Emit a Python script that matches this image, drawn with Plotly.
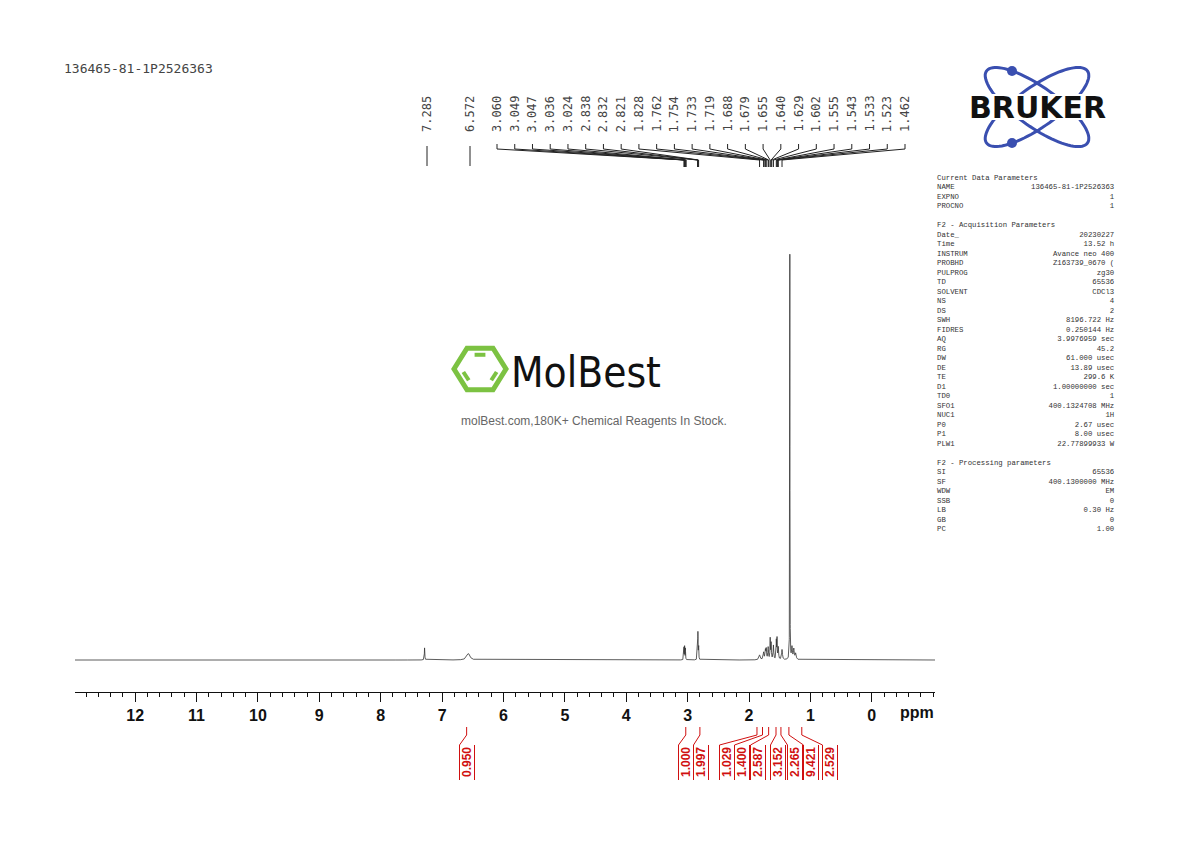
import numpy as np
import plotly.graph_objects as go

W, H = 1190, 842
OFF = 8  # page margin of the browser

# peak list: position (ppm), height (relative), half width (ppm)
peak_ppm = [7.285, 6.572, 3.060, 3.049, 3.036, 2.838, 2.832, 2.821,
            1.828, 1.762, 1.733, 1.719, 1.688, 1.655, 1.640, 1.602,
            1.555, 1.543, 1.523, 1.462, 1.335, 1.300, 1.270, 1.240]
peak_h = [0.030, 0.016, 0.030, 0.032, 0.028, 0.040, 0.060, 0.038,
          0.012, 0.018, 0.022, 0.025, 0.030, 0.050, 0.040, 0.035,
          0.045, 0.050, 0.030, 0.025, 1.000, 0.030, 0.025, 0.015]
peak_w = [0.004, 0.030, 0.003, 0.003, 0.003, 0.003, 0.003, 0.003,
          0.012, 0.008, 0.006, 0.006, 0.006, 0.004, 0.005, 0.006,
          0.004, 0.004, 0.006, 0.008, 0.002, 0.008, 0.008, 0.010]

label_ppm = ["7.285", "6.572", "3.060", "3.049", "3.047", "3.036", "3.024", "2.838",
             "2.832", "2.821", "1.828", "1.762", "1.754", "1.733", "1.719", "1.688",
             "1.679", "1.655", "1.640", "1.629", "1.602", "1.555", "1.543", "1.533",
             "1.523", "1.462"]

integ_values = ["0.950", "1.000", "1.997", "1.029", "1.400", "2.587",
                "3.152", "2.265", "9.421", "2.529"]
integ_ppm = [6.60, 3.03, 2.80, 1.87, 1.78, 1.68, 1.56, 1.48, 1.35, 1.14]

params = [
    ("Current Data Parameters", ""), ("NAME", "136465-81-1P2526363"), ("EXPNO", "1"), ("PROCNO", "1"),
    ("", ""), ("F2 - Acquisition Parameters", ""), ("Date_", "20230227"), ("Time", "13.52 h"),
    ("INSTRUM", "Avance neo 400"), ("PROBHD", "Z163739_0670 ("), ("PULPROG", "zg30"),
    ("TD", "65536"), ("SOLVENT", "CDCl3"), ("NS", "4"), ("DS", "2"),
    ("SWH", "8196.722 Hz"), ("FIDRES", "0.250144 Hz"), ("AQ", "3.9976959 sec"),
    ("RG", "45.2"), ("DW", "61.000 usec"), ("DE", "13.89 usec"), ("TE", "299.6 K"),
    ("D1", "1.00000000 sec"), ("TD0", "1"), ("SFO1", "400.1324708 MHz"), ("NUC1", "1H"),
    ("P0", "2.67 usec"), ("P1", "8.00 usec"), ("PLW1", "22.77899933 W"),
    ("", ""), ("F2 - Processing parameters", ""), ("SI", "65536"), ("SF", "400.1300000 MHz"),
    ("WDW", "EM"), ("SSB", "0"), ("LB", "0.30 Hz"), ("GB", "0"), ("PC", "1.00"),
]

# spectrum from Lorentzian lines
x = np.linspace(-1.03, 12.98, 30000)
y = np.zeros_like(x)
for p, h, w in zip(peak_ppm, peak_h, peak_w):
    y += h * w**2 / ((x - p)**2 + w**2)


def pxx(pix):
    return (pix - OFF) / W


def py(pix):
    return 1 - (pix - OFF) / H


x0d, x1d = pxx(75), pxx(935)
xr = [12.98, -1.03]


def ppm2paper(p):
    return x0d + (xr[0] - p) / (xr[0] - xr[1]) * (x1d - x0d)


fig = go.Figure(go.Scatter(x=x, y=y, mode="lines", line=dict(color="#333", width=0.8),
                           hoverinfo="skip", showlegend=False))

shapes, ann = [], []


def seg(xa, ya, xb, yb, color="#222", width=1):
    shapes.append(dict(type="line", xref="paper", yref="paper", x0=xa, x1=xb, y0=ya, y1=yb,
                       line=dict(color=color, width=width)))


def text(xp, yp, s, font, **kw):
    d = dict(x=xp, y=yp, xref="paper", yref="paper", text=s, showarrow=False,
             xanchor="center", yanchor="middle", font=font)
    d.update(kw)
    ann.append(d)


# peak labels with leaders
n = len(label_ppm)
lx = [427, 470] + list(np.linspace(497, 905, n - 2))
for i, (lab, px) in enumerate(zip(label_ppm, lx)):
    xp = pxx(px)
    text(xp, py(114), lab, dict(family="DejaVu Sans Mono", size=12, color="#444"), textangle=-90)
    tgt = ppm2paper(float(lab))
    if i < 2:
        seg(xp, py(146), xp, py(166))
    else:
        seg(xp, py(144), xp, py(149))
        seg(xp, py(149), tgt, py(160))
        seg(tgt, py(160), tgt, py(167))

# integrals
ix = [467, 686, 701, 727, 742, 758, 778, 795, 811, 830]
red = "#d01010"
for v, p, px in zip(integ_values, integ_ppm, ix):
    xp = pxx(px)
    tgt = ppm2paper(p)
    text(xp, py(762), "<b>%s</b>" % v, dict(family="Liberation Sans", size=12, color=red), textangle=-90)
    for dx in (-7.5, 7.5):
        seg(xp + dx / W, py(780), xp + dx / W, py(745), red)
    seg(xp - 7.5 / W, py(745), tgt, py(735), red)
    seg(tgt, py(735), tgt, py(727), red)

# header and ppm
text(pxx(62), py(68), "136465-81-1P2526363", dict(family="DejaVu Sans Mono", size=13, color="#444"),
     xanchor="left")
text(pxx(917), py(712), "<b>ppm</b>", dict(family="Liberation Sans", size=16, color="#111"))

# parameters block
keys = "<br>".join(k if k else "&nbsp;" for k, v in params)
vals = "<br>".join(v if v else "&nbsp;" for k, v in params)
pfont = dict(family="Liberation Mono", size=7.3, color="#333")
text(pxx(935), py(172), keys, pfont, xanchor="left", yanchor="top", align="left")
text(pxx(1117), py(172), vals, pfont, xanchor="right", yanchor="top", align="right")

# Bruker logo
t = np.linspace(0, 2 * np.pi, 90)
blue = "#3a4fb0"
for ang in (0.62, -0.62):
    ex = 62 * np.cos(t)
    ey = 20 * np.sin(t)
    rx = 1037 + ex * np.cos(ang) - ey * np.sin(ang)
    ry = 107 - (ex * np.sin(ang) + ey * np.cos(ang))
    path = "M " + " L ".join("%.4f,%.4f" % (pxx(a), py(b)) for a, b in zip(rx, ry)) + " Z"
    shapes.append(dict(type="path", xref="paper", yref="paper", path=path,
                       line=dict(color=blue, width=3)))
for cx, cy in ((1012, 71), (1012, 143)):
    shapes.append(dict(type="circle", xref="paper", yref="paper", x0=pxx(cx - 5), x1=pxx(cx + 5),
                       y0=py(cy + 5), y1=py(cy - 5), fillcolor=blue, line=dict(width=0)))
shapes.append(dict(type="rect", xref="paper", yref="paper", x0=pxx(958), x1=pxx(1116),
                   y0=py(120), y1=py(94), fillcolor="white", line=dict(width=0)))
text(pxx(1037), py(107), "<b>BRUKER</b>", dict(family="DejaVu Sans", size=30, color="#111"))

# MolBest watermark
green = "#7cc242"
ang6 = np.arange(6) * np.pi / 3
hx = 480 + 26 * np.cos(ang6)
hy = 369 + 24 * np.sin(ang6)
shapes.append(dict(type="path", xref="paper", yref="paper",
                   path="M " + " L ".join("%.4f,%.4f" % (pxx(a), py(b)) for a, b in zip(hx, hy)) + " Z",
                   line=dict(color=green, width=5)))
for k in (0, 2, 4):
    a0, a1 = ang6[k] + 0.2, ang6[(k + 1) % 6] - 0.2
    seg(pxx(480 + 17 * np.cos(a0)), py(369 + 15 * np.sin(a0)),
        pxx(480 + 17 * np.cos(a1)), py(369 + 15 * np.sin(a1)), green, 4)
text(pxx(586), py(372), "MolBest", dict(family="DejaVu Sans Condensed", size=42, color="#111"))
text(pxx(594), py(421), "molBest.com,180K+ Chemical Reagents In Stock.",
     dict(family="Liberation Sans", size=12, color="#666"))

fig.update_layout(
    width=W, height=H, margin=dict(l=0, r=0, t=0, b=0),
    paper_bgcolor="white", plot_bgcolor="white",
    xaxis=dict(domain=[x0d, x1d], range=xr, tickvals=list(range(12, -1, -1)),
               ticktext=["<b>%d</b>" % i for i in range(12, -1, -1)],
               ticks="outside", ticklen=9, tickwidth=1.2, tickcolor="#111",
               showline=True, linecolor="#111", linewidth=1.2, showgrid=False, zeroline=False,
               tickfont=dict(family="Liberation Sans", size=16, color="#111"),
               minor=dict(dtick=0.2, tick0=0, ticks="outside", ticklen=4, tickcolor="#111")),
    yaxis=dict(domain=[py(692), py(240)], range=[-0.079, 1.037], visible=False),
    shapes=shapes, annotations=ann,
)

fig.write_html("out.html")
